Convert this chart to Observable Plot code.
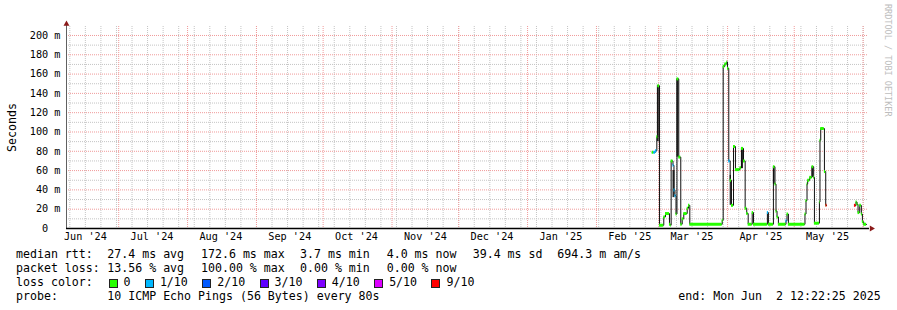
<!DOCTYPE html>
<html>
<head>
<meta charset="utf-8">
<script src="https://cdn.jsdelivr.net/npm/d3@7"></script>
<script src="https://cdn.jsdelivr.net/npm/@observablehq/plot@0.6"></script>
<style>
  body { margin: 0; background: #fff; }
  #wrap { position: relative; width: 897px; height: 310px; background: #fff; overflow: hidden;
          font-family: "DejaVu Sans Mono", monospace; color: #000; }
  #title { position: absolute; left: 0; top: 11px; width: 897px; text-align: center;
           font-size: 13.5px; line-height: 16px; }
  #chart { position: absolute; left: 0; top: 0; }
  #credit { position: absolute; left: 883px; top: 4px; writing-mode: vertical-rl;
            font-size: 8.5px; color: #bdbdbd; line-height: 10px; white-space: pre; }
  .row { position: absolute; left: 0; width: 897px; height: 14px; line-height: 14px;
         font-size: 11.6px; white-space: pre; }
  .row span.it { position: absolute; top: 0; }
  .swatches { position: absolute; top: 0; left: 108.5px; display: flex; align-items: flex-start; }
  .sw { display: flex; align-items: center; margin-right: 14.4px; }
  .box { width: 7px; height: 7px; border: 1px solid #222; margin-top: 3px; margin-right: 6px; }
</style>
</head>
<body>
<div id="wrap">
  <div id="title"></div>
  <div id="chart"></div>
  <div id="credit"></div>
  <div id="legend"></div>
</div>
<script>
// ---------- data ----------
const titleText = "Last 360 Days";
const creditText = "RRDTOOL / TOBI OETIKER";
const yAxisLabel = "Seconds";
const startTime = new Date("2024-06-07T12:22:25Z");
const endTime = new Date("2025-06-02T12:22:25Z");

const yTicks = [0, 20, 40, 60, 80, 100, 120, 140, 160, 180, 200];
const yTickLabels = ["0\u00a0\u00a0", "20 m", "40 m", "60 m", "80 m", "100 m", "120 m", "140 m", "160 m", "180 m", "200 m"];
const yMinorTicks = [10, 30, 50, 70, 90, 110, 130, 150, 170, 190];
const yMax = 209.3;

const monthLabels = ["Jun '24", "Jul '24", "Aug '24", "Sep '24", "Oct '24", "Nov '24",
                     "Dec '24", "Jan '25", "Feb '25", "Mar '25", "Apr '25", "May '25"];

// median RTT samples (ms), step-after; null = no data
const sampleTimes = [
  "2025-02-26T01:30", "2025-02-26T19:30", "2025-02-27T13:30", "2025-02-28T04:00", "2025-02-28T14:30",
  "2025-03-01T08:30", "2025-03-03T07:00", "2025-03-04T01:30", "2025-03-05T20:30", "2025-03-06T07:30",
  "2025-03-06T14:30", "2025-03-07T10:30", "2025-03-07T21:00", "2025-03-08T08:00", "2025-03-08T19:00",
  "2025-03-09T05:30", "2025-03-10T01:00", "2025-03-10T22:30", "2025-03-11T14:00", "2025-03-12T07:00",
  "2025-03-13T20:00", "2025-03-14T10:00", "2025-03-15T00:00", "2025-03-29T14:00", "2025-03-30T00:30",
  "2025-03-30T18:00", "2025-03-31T15:30", "2025-03-31T23:00", "2025-04-01T13:00", "2025-04-02T04:00",
  "2025-04-02T18:00", "2025-04-03T16:00", "2025-04-04T13:00", "2025-04-06T14:00", "2025-04-07T06:00",
  "2025-04-08T04:00", "2025-04-08T22:00", "2025-04-09T15:00", "2025-04-10T06:30", "2025-04-12T02:00",
  "2025-04-12T16:00", "2025-04-18T22:00", "2025-04-19T09:00", "2025-04-21T15:00", "2025-04-22T08:00",
  "2025-04-22T19:00", "2025-04-23T06:00", "2025-04-23T21:00", "2025-04-27T07:00", "2025-04-27T18:00",
  "2025-04-28T09:00", "2025-05-05T20:00", "2025-05-06T07:00", "2025-05-06T18:00", "2025-05-07T01:00",
  "2025-05-07T23:00", "2025-05-09T00:00", "2025-05-09T18:00", "2025-05-10T02:00", "2025-05-12T08:00",
  "2025-05-12T14:00", "2025-05-12T22:00", "2025-05-14T06:00", "2025-05-14T14:00", "2025-05-15T04:00",
  "2025-05-15T07:00", "2025-05-15T18:00", "2025-05-20T00:00",
  "2025-05-28T02:00", "2025-05-28T19:00", "2025-05-29T06:00", "2025-05-29T17:00", "2025-05-30T11:00",
  "2025-05-31T05:00", "2025-05-31T16:00", "2025-06-01T06:00", "2025-06-02T12:00"
];
const medianMs = [
  79, 79, 80.5, 95, 148,
  3.4, 12, 15.5, 4.5, 3.4,
  70, 65.5, 40, 34, 15,
  155, 74, 4.5, 10, 15.5,
  21, 24, 4.4, 8.5, 168,
  170.5, 172.6, 166, 70, 50,
  24, 85, 61, 63, 83,
  70, 21, 15.5, 4.4, 16.5,
  4.4, 16.5, 4.4, 64, 46,
  18, 12, 4.4, 8, 15,
  4.4, 15, 29, 46, 50,
  53, 64, 53, 5.5, 27.5,
  91.5, 103.6, 103.6, 59, 24,
  24, 24, null,
  24, 27.5, 25, 16.5, 24,
  15, 7, 4.4, 4
];
const lossTenths = [
  0, 1, 1, 0, 0,
  0, 0, 0, 0, 0,
  0, 1, 1, 1, 0,
  0, 0, 0, 0, 0,
  0, 0, 0, 0, 0,
  0, 0, 0, 1, 0,
  0, 0, 0, 0, 0,
  0, 0, 0, 0, 0,
  0, 1, 0, 0, 0,
  0, 0, 0, 1, 0,
  0, 0, 0, 0, 0,
  0, 0, 0, 0, 0,
  0, 0, 0, 0, 0,
  9, 9, 0,
  9, 0, 0, 0, 0,
  0, 0, 0, 0
];

// smoke (ping spread) bands
const smokeStart = ["2025-02-28T10:00", "2025-03-07T10:30", "2025-03-09T05:30", "2025-04-02T04:00", "2025-04-07T06:00", "2025-04-21T15:00", "2025-05-09T00:00"];
const smokeEnd   = ["2025-03-01T06:00", "2025-03-08T08:00", "2025-03-10T01:00", "2025-04-02T18:00", "2025-04-08T04:00", "2025-04-22T08:00", "2025-05-09T18:00"];
const smokeLow   = [90, 32, 74, 24, 62, 46, 53];
const smokeHigh  = [148, 60, 155, 55, 83, 64, 64];

// legend
const lossClasses = [0, 1, 2, 3, 4, 5, 9];
const lossLabels = ["0", "1/10", "2/10", "3/10", "4/10", "5/10", "9/10"];
const lossColors = ["#26ff00", "#00b8ff", "#0059ff", "#5e00ff", "#7e00ff", "#dd00ff", "#ff0000"];
const rttLine = ["median rtt:", "27.4 ms avg", "172.6 ms max", "3.7 ms min", "4.0 ms now", "39.4 ms sd", "694.3 m am/s"];
const lossLine = ["packet loss:", "13.56 % avg", "100.00 % max", "0.00 % min", "0.00 % now"];
const lossColorLabel = "loss color:";
const probeLine = ["probe:", "10 ICMP Echo Pings (56 Bytes) every 80s"];
const endText = "end: Mon Jun  2 12:22:25 2025";

// ---------- derived ----------
const pts = sampleTimes.map((t, i) => ({t: new Date(t + "Z"), v: medianMs[i], loss: lossTenths[i]}));
const runs = [];
for (let i = 0; i < pts.length - 1; i++) {
  if (pts[i].v != null && pts[i + 1].v != null) runs.push({t1: pts[i].t, t2: pts[i + 1].t, v: pts[i].v, loss: pts[i].loss});
}
const smoke = smokeStart.map((s, i) => ({t1: new Date(s + "Z"), t2: new Date(smokeEnd[i] + "Z"), lo: smokeLow[i], hi: smokeHigh[i]}));
const monthStarts = d3.utcMonth.range(startTime, endTime);
const weekStarts = d3.utcSunday.range(startTime, endTime);
const labelDates = monthLabels.map((_, i) => d3.utcDay.offset(d3.utcMonth.offset(new Date(Date.UTC(2024, 5, 1)), i), 15));
const labelByTime = new Map(labelDates.map((d, i) => [+d, monthLabels[i]]));
const yLabelByValue = new Map(yTicks.map((d, i) => [d, yTickLabels[i]]));

const minorGrid = "#c4c4c4";
const majorGrid = "#f09a9a";
const arrowColor = "#8b1a1a";

const chart = Plot.plot({
  width: 897,
  height: 248,
  marginLeft: 66,
  marginRight: 31,
  marginTop: 26,
  marginBottom: 20,
  style: {fontFamily: "DejaVu Sans Mono, monospace", fontSize: "10.2px", background: "white", color: "black", overflow: "visible"},
  x: {type: "utc", domain: [startTime, endTime], axis: null},
  y: {domain: [0, yMax], axis: null},
  color: {type: "ordinal", domain: lossClasses, range: lossColors},
  marks: [
    Plot.ruleY(yMinorTicks, {stroke: minorGrid, strokeDasharray: "1,1", insetRight: -2}),
    Plot.ruleX(weekStarts, {stroke: minorGrid, strokeDasharray: "1,1"}),
    Plot.ruleY(yTicks.filter(d => d > 0), {stroke: majorGrid, strokeDasharray: "1,1", insetRight: -2}),
    Plot.ruleX(monthStarts, {stroke: majorGrid, strokeDasharray: "1,1"}),
    Plot.rect(smoke, {x1: "t1", x2: "t2", y1: "lo", y2: "hi", fill: "#2a2a2a"}),
    Plot.line(pts, {x: "t", y: "v", curve: "step-after", stroke: "#111", strokeWidth: 1}),
    Plot.ruleY(runs, {x1: "t1", x2: "t2", y: "v", stroke: "loss", strokeWidth: 3}),
    Plot.ruleX([startTime], {stroke: "#606060", insetTop: -3}),
    Plot.ruleY([0], {stroke: "#000", strokeWidth: 1.5, insetRight: -3}),
    Plot.dot([{t: startTime, v: yMax}], {x: "t", y: "v", symbol: "triangle", r: 2.2, fill: arrowColor, stroke: null, dy: -2.5}),
    Plot.dot([{t: endTime, v: 0}], {x: "t", y: "v", symbol: "triangle", r: 2.2, fill: arrowColor, stroke: null, rotate: 90, dx: 5}),
    Plot.axisY(yTicks, {tickSize: 0, tickPadding: 6, tickFormat: d => yLabelByValue.get(d), fill: "#000"}),
    Plot.axisX(labelDates, {tickSize: 0, tickPadding: 4, tickFormat: d => labelByTime.get(+d), fill: "#000"}),
    Plot.text([yAxisLabel], {frameAnchor: "left", dx: -54, rotate: -90, fontSize: 11.6, textAnchor: "middle", fill: "#000"})
  ]
});
document.getElementById("chart").appendChild(chart);
document.getElementById("title").textContent = titleText;
document.getElementById("credit").textContent = creditText;

// ---------- legend ----------
const legend = document.getElementById("legend");
const colX = [16, 107.3, 201, 300, 386.7, 472.7, 557.3];
function addRow(top, items) {
  const row = document.createElement("div");
  row.className = "row";
  row.style.top = top + "px";
  items.forEach((txt, i) => {
    const s = document.createElement("span");
    s.className = "it";
    s.style.left = colX[i] + "px";
    s.textContent = txt;
    row.appendChild(s);
  });
  legend.appendChild(row);
  return row;
}
addRow(247, rttLine);
addRow(261, lossLine);
const r3 = addRow(275, [lossColorLabel]);
const sws = document.createElement("div");
sws.className = "swatches";
lossLabels.forEach((lab, i) => {
  const it = document.createElement("div");
  it.className = "sw";
  const b = document.createElement("div");
  b.className = "box";
  b.style.background = lossColors[i];
  const t = document.createElement("span");
  t.textContent = lab;
  it.appendChild(b);
  it.appendChild(t);
  sws.appendChild(it);
});
r3.appendChild(sws);
const r4 = addRow(289, probeLine);
const e = document.createElement("span");
e.className = "it";
e.style.left = "678.3px";
e.textContent = endText;
r4.appendChild(e);
</script>
</body>
</html>
